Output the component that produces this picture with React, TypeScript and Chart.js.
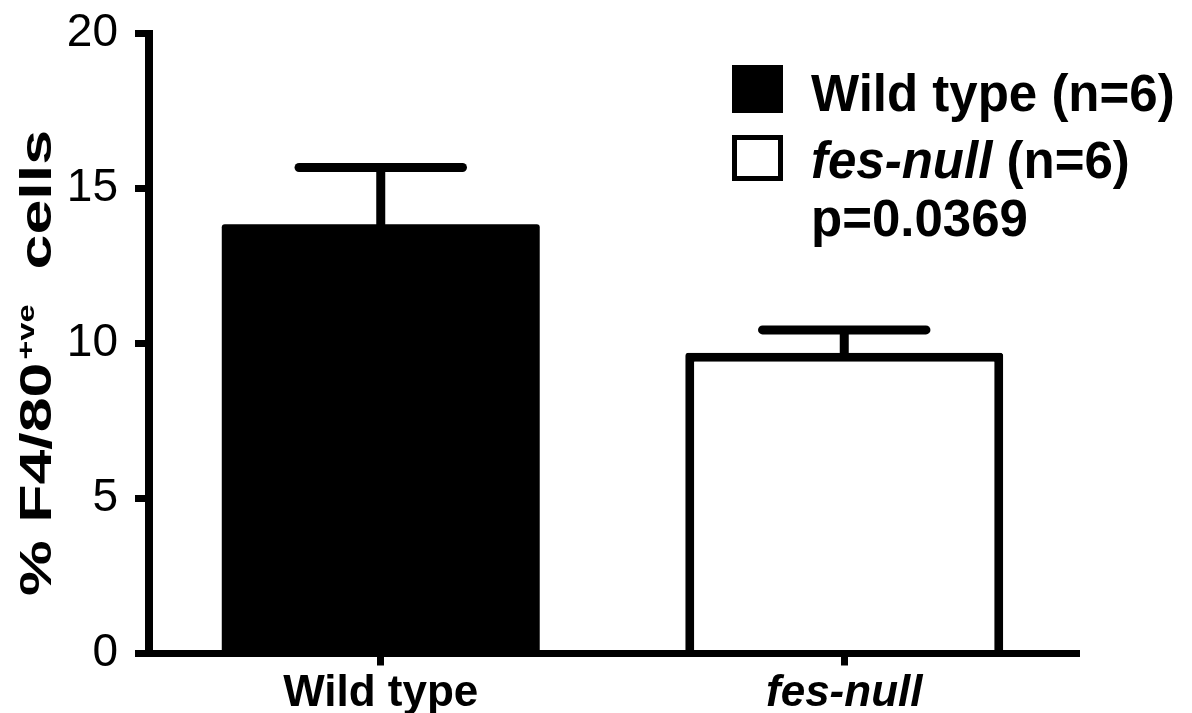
import React, { useEffect, useRef } from "react";
import { Chart, registerables } from "chart.js";

Chart.register(...registerables);

const categories = ["Wild type", "fes-null"];
const meanValues = [13.85, 9.7];
const errorUpper = [15.68, 10.44];
const yTickValues = [0, 5, 10, 15, 20];
const barFills = ["#000000", "#ffffff"];
const legendNames = ["Wild type", "fes-null"];
const legendCounts = ["(n=6)", "(n=6)"];
const legendItalic = [false, true];
const pValueText = "p=0.0369";
const yTitleMain = "% F4/80";
const yTitleSup = "+ve";
const yTitleTail = "  cells";

const FONT = "'Liberation Sans', Arial, Helvetica, sans-serif";

const overlayPlugin = {
  id: "overlay",
  afterDatasetsDraw(chart: any) {
    const ctx = chart.ctx;
    const yScale = chart.scales.y;
    const meta = chart.getDatasetMeta(0);
    meta.data.forEach((bar: any, i: number) => {
      const x = bar.x;
      const top = yScale.getPixelForValue(errorUpper[i]);
      const half = bar.width * 0.257;
      ctx.save();
      ctx.strokeStyle = "#000";
      ctx.lineWidth = 9;
      ctx.lineCap = "butt";
      ctx.beginPath();
      ctx.moveTo(x, bar.y + 4);
      ctx.lineTo(x, top);
      ctx.stroke();
      ctx.lineCap = "round";
      ctx.beginPath();
      ctx.moveTo(x - half, top);
      ctx.lineTo(x + half, top);
      ctx.stroke();
      ctx.restore();
    });
  },
  afterDraw(chart: any) {
    const ctx = chart.ctx;
    ctx.save();
    // Legend
    const boxX = 732;
    const textX = 811;
    const rows = [65, 135];
    const baselines = [111, 178];
    legendNames.forEach((name, i) => {
      const y0 = rows[i];
      if (i === 0) {
        ctx.fillStyle = barFills[0];
        ctx.fillRect(boxX, y0, 51, 48);
      } else {
        ctx.fillStyle = "#fff";
        ctx.fillRect(boxX, y0, 51, 46);
        ctx.strokeStyle = "#000";
        ctx.lineWidth = 5;
        ctx.strokeRect(boxX + 2.5, y0 + 2.5, 46, 41);
      }
      ctx.fillStyle = "#000";
      ctx.textBaseline = "alphabetic";
      ctx.textAlign = "left";
      ctx.font = `${legendItalic[i] ? "italic " : ""}bold 51px ${FONT}`;
      ctx.fillText(name, textX, baselines[i]);
      const w = ctx.measureText(name + " ").width;
      ctx.font = `bold 51px ${FONT}`;
      ctx.fillText(legendCounts[i], textX + w, baselines[i]);
    });
    ctx.font = `bold 51px ${FONT}`;
    ctx.fillText(pValueText, textX, 236);
    ctx.restore();

    // Y axis title (rotated, horizontally stretched like the original)
    ctx.save();
    ctx.fillStyle = "#000";
    ctx.textBaseline = "alphabetic";
    ctx.textAlign = "left";
    ctx.font = `bold 44px ${FONT}`;
    const wMain = ctx.measureText(yTitleMain).width;
    const wTail = ctx.measureText(yTitleTail).width;
    ctx.font = `bold 23px ${FONT}`;
    const wSup = ctx.measureText(yTitleSup).width;
    const total = wMain + 2 + wSup + wTail;
    const targetLen = 466;
    ctx.translate(51, 596);
    ctx.rotate(-Math.PI / 2);
    ctx.scale(targetLen / total, 1);
    ctx.font = `bold 44px ${FONT}`;
    ctx.fillText(yTitleMain, 0, 0);
    let off = wMain + 2;
    ctx.font = `bold 23px ${FONT}`;
    ctx.fillText(yTitleSup, off, -17);
    off += wSup;
    ctx.font = `bold 44px ${FONT}`;
    ctx.fillText(yTitleTail, off, 0);
    ctx.restore();
  },
};

export default function App() {
  const ref = useRef<HTMLCanvasElement | null>(null);
  useEffect(() => {
    document.body.style.margin = "0";
    const canvas = ref.current!;
    const chart = new Chart(canvas, {
      type: "bar",
      data: {
        labels: categories,
        datasets: [
          {
            data: meanValues,
            backgroundColor: barFills,
            borderColor: "#000",
            borderWidth: [0, 9],
            borderSkipped: "bottom",
            borderRadius: 3,
            barPercentage: 0.686,
            categoryPercentage: 1,
          },
        ],
      },
      options: {
        responsive: false,
        animation: false,
        devicePixelRatio: 1,
        layout: { padding: { top: 0, right: 116, left: 0, bottom: 0 } },
        plugins: { legend: { display: false }, tooltip: { enabled: false }, title: { display: false } },
        scales: {
          x: {
            z: 1,
            offset: true,
            afterFit: (s: any) => {
              s.height = 59.5;
            },
            grid: {
              offset: false,
              drawOnChartArea: false,
              drawTicks: true,
              tickLength: 12,
              lineWidth: 7,
              color: "#000",
            },
            border: { display: true, color: "#000", width: 7 },
            ticks: {
              color: "#000",
              padding: 2,
              maxRotation: 0,
              autoSkip: false,
              font: (c: any) => ({
                family: FONT,
                size: 44,
                weight: "bold",
                style: c.index === 1 ? "italic" : "normal",
              }),
            },
          },
          y: {
            z: 1,
            min: 0,
            max: 20,
            afterFit: (s: any) => {
              s.width = 149;
            },
            afterBuildTicks: (s: any) => {
              s.ticks = yTickValues.map((v) => ({ value: v }));
            },
            grid: {
              drawOnChartArea: false,
              drawTicks: true,
              tickLength: 14,
              lineWidth: 7,
              color: "#000",
            },
            border: { display: true, color: "#000", width: 8 },
            ticks: {
              color: "#000",
              padding: 17,
              font: { family: FONT, size: 46, lineHeight: 0.72 },
            },
          },
        },
      },
      plugins: [overlayPlugin],
    });
    return () => chart.destroy();
  }, []);
  return <canvas ref={ref} width={1192} height={713} style={{ display: "block" }} />;
}
